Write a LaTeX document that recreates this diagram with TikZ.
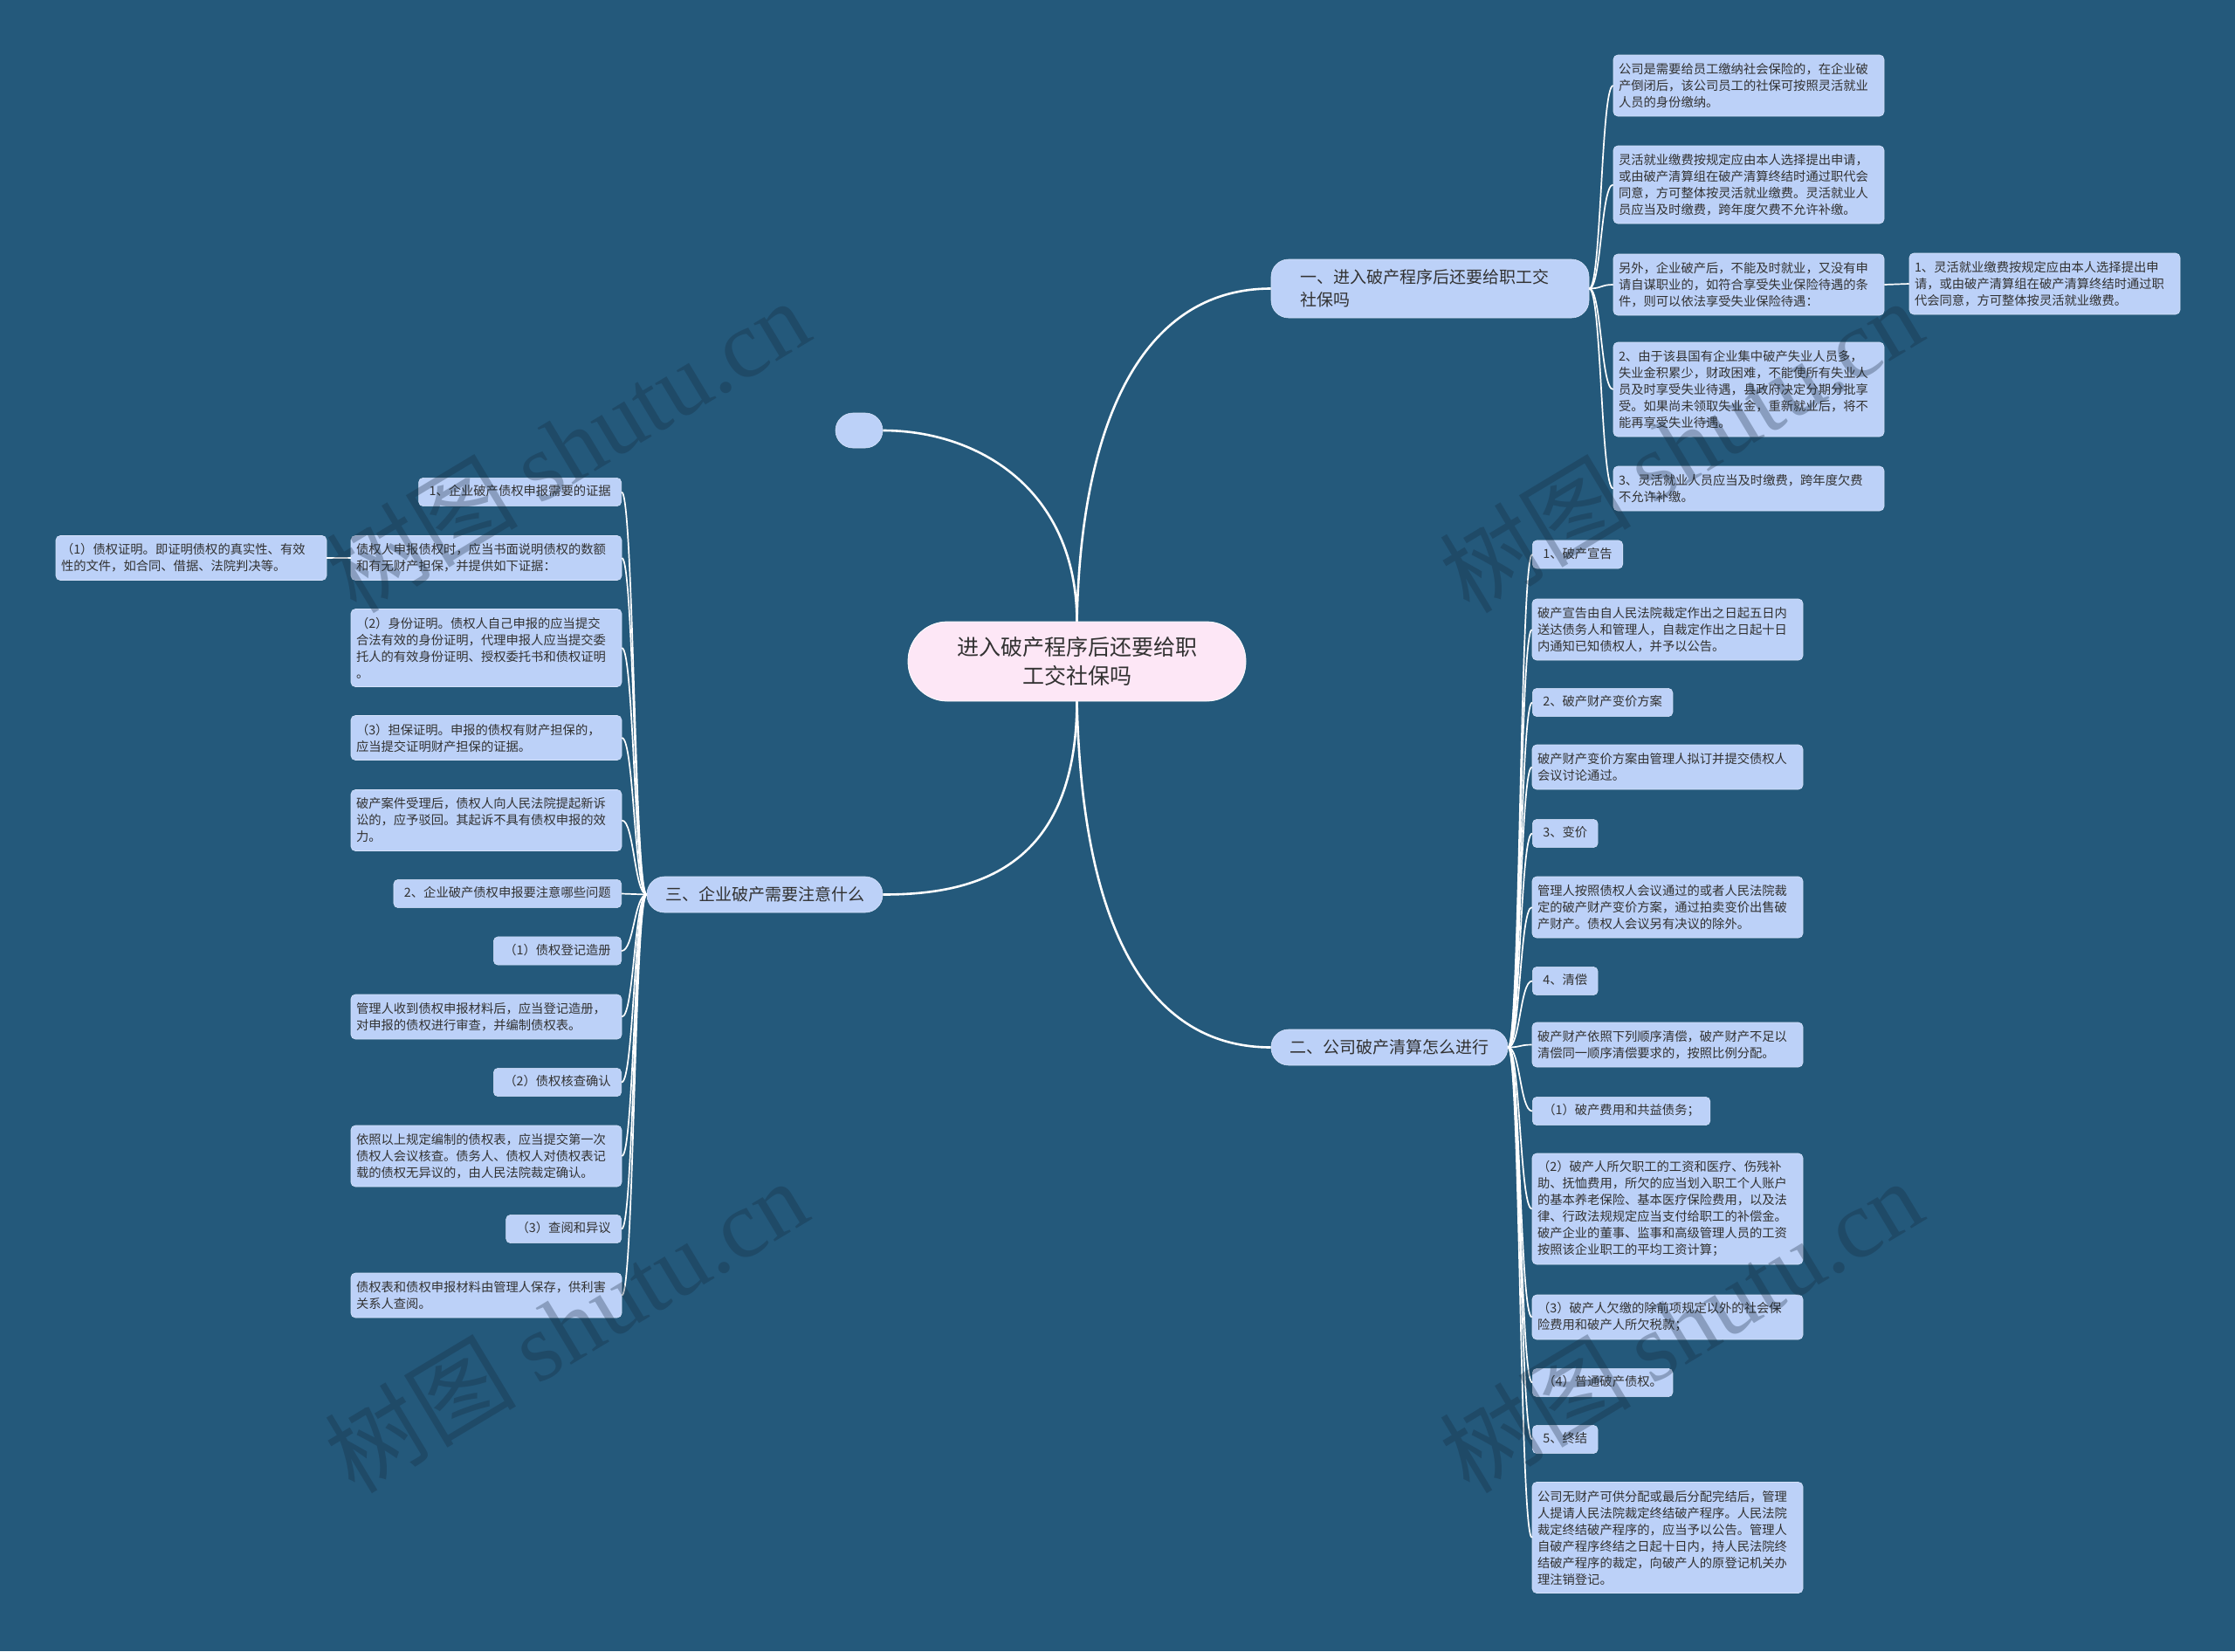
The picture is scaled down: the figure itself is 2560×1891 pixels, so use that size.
\documentclass[tikz,border=0pt]{standalone}
\usepackage{fontspec}
\newfontfamily\cjk{Noto Sans CJK SC}
\newfontfamily\wmlat{Liberation Serif}
\definecolor{bgc}{RGB}{36,89,123}
\definecolor{boxfill}{RGB}{188,209,248}
\definecolor{boxline}{RGB}{214,226,250}
\definecolor{rootfill}{RGB}{253,231,246}
\definecolor{txt}{RGB}{50,50,50}
\definecolor{wmc}{RGB}{20,40,60}
\tikzset{
  box/.style={draw=boxline, line width=0.6pt, fill=boxfill, rounded corners=5pt,
    inner xsep=6pt, inner ysep=8.5pt, align=left, text=txt,
    font=\cjk\fontsize{14.3}{19}\selectfont},
  wide/.style={box, text width=298pt},
  short/.style={box, inner xsep=12pt, text height=12pt, text depth=3.2pt},
  branch/.style={fill=boxfill, draw=boxline, line width=0.6pt, rounded corners=20pt,
    text=txt, font=\cjk\fontsize{19}{26}\selectfont, inner sep=0pt, minimum height=41pt},
  rootbox/.style={fill=rootfill, draw=white, line width=0.8pt, rounded corners=45pt,
    text=txt, font=\cjk\fontsize{25}{33}\selectfont, align=center,
    minimum width=387pt, minimum height=91pt, inner sep=0pt},
  mainline/.style={draw=white, line width=2.6pt},
  subline/.style={draw=white, line width=1.7pt},
  wmark/.style={text=wmc, opacity=0.3, rotate=31, inner sep=0pt}
}
\begin{document}
\begin{tikzpicture}[x=1pt,y=-1pt]
\useasboundingbox (0,0) rectangle (2560,1891);
\fill[bgc] (0,0) rectangle (2560,1891);

% root and branches
\node[rootbox] (root) at (1233.5,757.5) {进入破产程序后还要给职\\工交社保吗};
\node[branch, align=left, text width=298pt, inner xsep=33pt, minimum height=67pt] (b1) at (1638,330.5) {一、进入破产程序后还要给职工交\\社保吗};
\node[branch, minimum width=271pt] (b2) at (1591.5,1199.5) {二、公司破产清算怎么进行};
\node[branch, minimum width=270pt] (b3) at (876,1024.5) {三、企业破产需要注意什么};
\node[branch, minimum width=54pt, minimum height=40pt] (emp) at (984,493) {};

\draw[mainline] (root.north) .. controls (1238,480) and (1310,330.5) .. (b1.west);
\draw[mainline] (root.north) .. controls (1233,560) and (1120,493) .. (emp.east);
\draw[mainline] (root.south) .. controls (1233,1000) and (1110,1024.5) .. (b3.east);
\draw[mainline] (root.south) .. controls (1240,1090) and (1330,1199.5) .. (b2.west);

% branch 1 children
\node[wide, minimum height=70pt] (r1a) at (2003,98) {公司是需要给员工缴纳社会保险的，在企业破\\产倒闭后，该公司员工的社保可按照灵活就业\\人员的身份缴纳。};
\node[wide, minimum height=89pt] (r1b) at (2003,211.5) {灵活就业缴费按规定应由本人选择提出申请，\\或由破产清算组在破产清算终结时通过职代会\\同意，方可整体按灵活就业缴费。灵活就业人\\员应当及时缴费，跨年度欠费不允许补缴。};
\node[wide, minimum height=70pt] (r1c) at (2003,326) {另外，企业破产后，不能及时就业，又没有申\\请自谋职业的，如符合享受失业保险待遇的条\\件，则可以依法享受失业保险待遇：};
\node[wide, minimum height=108pt] (r1d) at (2003,446) {2、由于该县国有企业集中破产失业人员多，\\失业金积累少，财政困难，不能使所有失业人\\员及时享受失业待遇，县政府决定分期分批享\\受。如果尚未领取失业金，重新就业后，将不\\能再享受失业待遇。};
\node[wide, minimum height=51pt] (r1e) at (2003,559.5) {3、灵活就业人员应当及时缴费，跨年度欠费\\不允许补缴。};
\node[wide, minimum height=70pt] (r1c1) at (2342,325) {1、灵活就业缴费按规定应由本人选择提出申\\请，或由破产清算组在破产清算终结时通过职\\代会同意，方可整体按灵活就业缴费。};

\foreach \c in {r1a,r1b,r1c,r1d,r1e}
  \draw[subline] (b1.east) .. controls +(14,0) and +(-14,0) .. (\c.west);
\draw[subline] (r1c.east) -- (r1c1.west);

% branch 2 children
\node[short, anchor=west] (c1) at (1755,635) {1、破产宣告};
\node[wide, minimum height=70pt] (c2) at (1910,721) {破产宣告由自人民法院裁定作出之日起五日内\\送达债务人和管理人，自裁定作出之日起十日\\内通知已知债权人，并予以公告。};
\node[short, anchor=west] (c3) at (1755,804.5) {2、破产财产变价方案};
\node[wide, minimum height=51pt] (c4) at (1910,878.5) {破产财产变价方案由管理人拟订并提交债权人\\会议讨论通过。};
\node[short, anchor=west] (c5) at (1755,954.5) {3、变价};
\node[wide, minimum height=70pt] (c6) at (1910,1039) {管理人按照债权人会议通过的或者人民法院裁\\定的破产财产变价方案，通过拍卖变价出售破\\产财产。债权人会议另有决议的除外。};
\node[short, anchor=west] (c7) at (1755,1123.5) {4、清偿};
\node[wide, minimum height=51pt] (c8) at (1910,1196.5) {破产财产依照下列顺序清偿，破产财产不足以\\清偿同一顺序清偿要求的，按照比例分配。};
\node[short, anchor=west] (c9) at (1755,1272.5) {（1）破产费用和共益债务；};
\node[wide, minimum height=127pt] (c10) at (1910,1384.5) {（2）破产人所欠职工的工资和医疗、伤残补\\助、抚恤费用，所欠的应当划入职工个人账户\\的基本养老保险、基本医疗保险费用，以及法\\律、行政法规规定应当支付给职工的补偿金。\\破产企业的董事、监事和高级管理人员的工资\\按照该企业职工的平均工资计算；};
\node[wide, minimum height=51pt] (c11) at (1910,1508.5) {（3）破产人欠缴的除前项规定以外的社会保\\险费用和破产人所欠税款；};
\node[short, anchor=west] (c12) at (1755,1583.5) {（4）普通破产债权。};
\node[short, anchor=west] (c13) at (1755,1648.5) {5、终结};
\node[wide, minimum height=127pt] (c14) at (1910,1761) {公司无财产可供分配或最后分配完结后，管理\\人提请人民法院裁定终结破产程序。人民法院\\裁定终结破产程序的，应当予以公告。管理人\\自破产程序终结之日起十日内，持人民法院终\\结破产程序的裁定，向破产人的原登记机关办\\理注销登记。};

\foreach \c in {c1,c2,c3,c4,c5,c6,c7,c8,c9,c10,c11,c12,c13,c14}
  \draw[subline] (b2.east) .. controls +(14,0) and +(-14,0) .. (\c.west);

% branch 3 children
\node[short, anchor=east] (l1) at (712,563.5) {1、企业破产债权申报需要的证据};
\node[wide, minimum height=51pt] (l2) at (557,639) {债权人申报债权时，应当书面说明债权的数额\\和有无财产担保，并提供如下证据：};
\node[wide, minimum height=51pt] (l2a) at (219,639) {（1）债权证明。即证明债权的真实性、有效\\性的文件，如合同、借据、法院判决等。};
\node[wide, minimum height=89pt] (l3) at (557,742) {（2）身份证明。债权人自己申报的应当提交\\合法有效的身份证明，代理申报人应当提交委\\托人的有效身份证明、授权委托书和债权证明\\。};
\node[wide, minimum height=51pt] (l4) at (557,845) {（3）担保证明。申报的债权有财产担保的，\\应当提交证明财产担保的证据。};
\node[wide, minimum height=70pt] (l5) at (557,939.5) {破产案件受理后，债权人向人民法院提起新诉\\讼的，应予驳回。其起诉不具有债权申报的效\\力。};
\node[short, anchor=east] (l6) at (712,1023.5) {2、企业破产债权申报要注意哪些问题};
\node[short, anchor=east] (l7) at (712,1089) {（1）债权登记造册};
\node[wide, minimum height=51pt] (l8) at (557,1164.5) {管理人收到债权申报材料后，应当登记造册，\\对申报的债权进行审查，并编制债权表。};
\node[short, anchor=east] (l9) at (712,1239.5) {（2）债权核查确认};
\node[wide, minimum height=70pt] (l10) at (557,1324) {依照以上规定编制的债权表，应当提交第一次\\债权人会议核查。债务人、债权人对债权表记\\载的债权无异议的，由人民法院裁定确认。};
\node[short, anchor=east] (l11) at (712,1407.5) {（3）查阅和异议};
\node[wide, minimum height=51pt] (l12) at (557,1483.5) {债权表和债权申报材料由管理人保存，供利害\\关系人查阅。};

\foreach \c in {l1,l2,l3,l4,l5,l6,l7,l8,l9,l10,l11,l12}
  \draw[subline] (b3.west) .. controls +(-14,0) and +(14,0) .. (\c.east);
\draw[subline] (l2.west) -- (l2a.east);

% watermarks
\node[wmark] (wm1) at (650,510) {\cjk\fontsize{110}{110}\selectfont 树图 \wmlat shutu.cn};
\node[wmark] (wm2) at (648,1518) {\cjk\fontsize{110}{110}\selectfont 树图 \wmlat shutu.cn};
\node[wmark] (wm3) at (1925,510) {\cjk\fontsize{110}{110}\selectfont 树图 \wmlat shutu.cn};
\node[wmark] (wm4) at (1925,1518) {\cjk\fontsize{110}{110}\selectfont 树图 \wmlat shutu.cn};
\end{tikzpicture}
\end{document}
